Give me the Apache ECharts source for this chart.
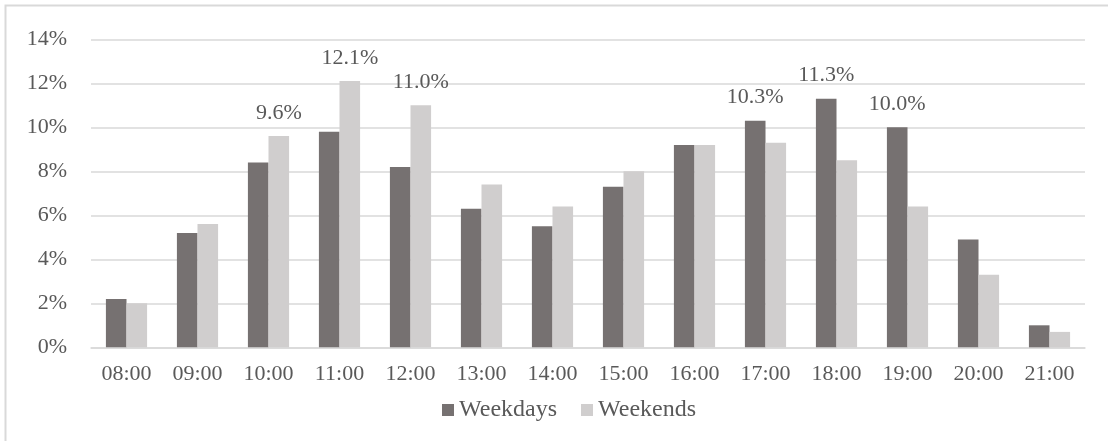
<!DOCTYPE html>
<html>
<head>
<meta charset="utf-8">
<script src="https://cdn.jsdelivr.net/npm/echarts@6/dist/echarts.min.js"></script>
<style>
  html, body { margin: 0; padding: 0; background: #ffffff; }
  #chart { width: 1108px; height: 441px; }
</style>
</head>
<body>
<div id="chart"></div>
<script>
// Hourly share of activity, in percent
const hours = ['08:00', '09:00', '10:00', '11:00', '12:00', '13:00', '14:00',
               '15:00', '16:00', '17:00', '18:00', '19:00', '20:00', '21:00'];
const weekdays = [2.2, 5.2, 8.4, 9.8, 8.2, 6.3, 5.5, 7.3, 9.2, 10.3, 11.3, 10.0, 4.9, 1.0];
const weekends = [2.0, 5.6, 9.6, 12.1, 11.0, 7.4, 6.4, 8.0, 9.2, 9.3, 8.5, 6.4, 3.3, 0.7];
// Hours whose bars carry a value label
const weekdayLabelled = ['17:00', '18:00', '19:00'];
const weekendLabelled = ['10:00', '11:00', '12:00'];
const yTicks = [0, 2, 4, 6, 8, 10, 12, 14];

const FONT = '"Liberation Serif", "Times New Roman", serif';
const TEXT = '#595959';

function withLabels(values, labelled) {
  return values.map((v, i) => ({
    value: v,
    label: { show: labelled.includes(hours[i]) }
  }));
}

const labelStyle = {
  position: 'top',
  distance: 12,
  fontFamily: FONT,
  fontSize: 22,
  color: TEXT,
  formatter: p => p.value.toFixed(1) + '%'
};

const chart = echarts.init(document.getElementById('chart'), null, { renderer: 'canvas' });
chart.setOption({
  backgroundColor: '#ffffff',
  animation: false,
  graphic: [{
    type: 'rect',
    shape: { x: 5.5, y: 5.5, width: 1120, height: 460 },
    style: { fill: 'none', stroke: '#d9d9d9', lineWidth: 2 },
    silent: true
  }],
  grid: { left: 91, right: 23, top: 39.3, bottom: 93.7 },
  legend: {
    data: ['Weekdays', 'Weekends'],
    left: 437,
    top: 393,
    itemWidth: 12,
    itemHeight: 12,
    itemGap: 24,
    icon: 'rect',
    textStyle: { fontFamily: FONT, fontSize: 24, color: TEXT }
  },
  xAxis: {
    type: 'category',
    data: hours,
    axisTick: { show: false },
    axisLine: { lineStyle: { color: '#d9d9d9', width: 1.5 } },
    axisLabel: { fontFamily: FONT, fontSize: 22, color: TEXT, margin: 16 }
  },
  yAxis: {
    type: 'value',
    min: yTicks[0],
    max: yTicks[yTicks.length - 1],
    interval: yTicks[1] - yTicks[0],
    axisLine: { show: false },
    axisTick: { show: false },
    splitLine: { lineStyle: { color: '#d9d9d9', width: 1.5 } },
    axisLabel: { fontFamily: FONT, fontSize: 22, color: TEXT, margin: 24, formatter: '{value}%' }
  },
  series: [
    {
      name: 'Weekdays',
      type: 'bar',
      data: withLabels(weekdays, weekdayLabelled),
      itemStyle: { color: '#767171' },
      barGap: '0%',
      barCategoryGap: '42%',
      label: labelStyle
    },
    {
      name: 'Weekends',
      type: 'bar',
      data: withLabels(weekends, weekendLabelled),
      itemStyle: { color: '#d0cece' },
      barGap: '0%',
      barCategoryGap: '42%',
      label: labelStyle
    }
  ]
});
</script>
</body>
</html>
